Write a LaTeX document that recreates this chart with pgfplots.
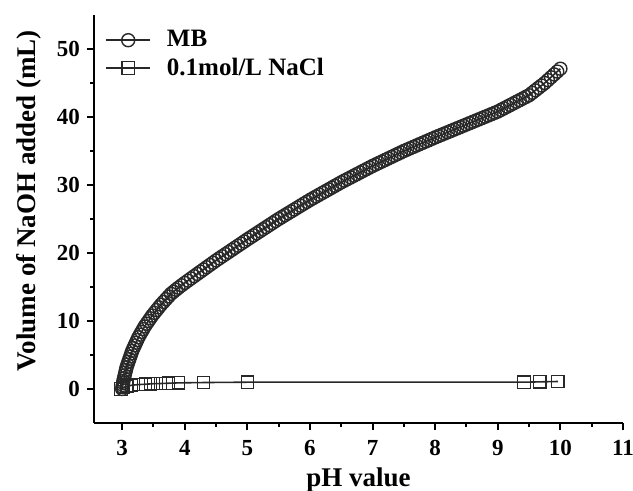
\documentclass[border=0pt]{standalone}
\usepackage{fontspec}
\setmainfont{Liberation Serif}
\usepackage{pgfplots}
\pgfplotsset{compat=1.18}
\definecolor{mbgray}{RGB}{40,40,40}

\begin{document}
\begin{tikzpicture}
\begin{axis}[
 name=ax,
 scale only axis,
 width=264.5pt,height=204pt,
 axis lines=left,
 axis line style={line width=1.1pt,-},
 xmin=2.55,xmax=11,ymin=-5,ymax=55,
 xtick={3,4,...,11},ytick={0,10,...,50},
 minor x tick num=1,minor y tick num=1,
 tick align=outside,
 major tick length=3.5pt,minor tick length=2pt,
 tick style={line width=1pt,black},
 tick label style={font=\bfseries\fontsize{11.5}{13}\selectfont},
 xticklabel style={yshift=-1.5pt},
 /pgf/number format/assume math mode=true,
 xlabel={\bfseries pH value},
 ylabel={\bfseries Volume of NaOH added (mL)},
 label style={font=\bfseries\fontsize{13.5}{15}\selectfont},
 xlabel style={yshift=1pt},
 ylabel style={at={(ticklabel cs:0.545)},yshift=1pt},
 legend style={draw=none,fill=none,at={(rel axis cs:0,0.985)},anchor=north west,
   xshift=2.5pt,yshift=-0.5pt,
   font=\bfseries\fontsize{12.5}{14}\selectfont,row sep=0pt,
   /tikz/every odd column/.append style={column sep=6pt}},
 legend cell align=left,
 legend image code/.code={%
   \draw[mark repeat=2,mark phase=2,#1] plot coordinates {(0pt,0pt) (11pt,0pt) (22pt,0pt)};},
]
\addplot[mbgray,line width=0.8pt,mark=o,mark size=3.25pt,
  mark options={fill=white,line width=0.7pt}] coordinates {
(3.00,0.0) (3.005,0.3) (3.01,0.6) (3.015,0.9) (3.02,1.2) (3.03,1.6) (3.04,2.0)
(3.05,2.4) (3.06,2.8) (3.07,3.2) (3.085,3.6) (3.10,4.0) (3.115,4.4) (3.13,4.8)
(3.145,5.2) (3.16,5.6) (3.18,6.0) (3.20,6.4) (3.22,6.8) (3.24,7.2) (3.26,7.6)
(3.285,8.0) (3.31,8.4) (3.335,8.8) (3.36,9.2) (3.39,9.6) (3.42,10.0) (3.45,10.4)
(3.48,10.8) (3.515,11.2) (3.55,11.6) (3.585,12.0) (3.62,12.4) (3.66,12.8) (3.70,13.2)
(3.74,13.6) (3.78,14.0) (3.82,14.3) (3.86,14.6) (3.90,14.9) (3.95,15.25)
(4.00,15.6) (4.05,15.93) (4.10,16.26) (4.15,16.59) (4.20,16.92) (4.25,17.25)
(4.30,17.58) (4.35,17.91) (4.40,18.24) (4.45,18.57) (4.50,18.9)
(4.55,19.21) (4.60,19.52) (4.65,19.83) (4.70,20.14) (4.75,20.45) (4.80,20.76)
(4.85,21.07) (4.90,21.38) (4.95,21.69) (5.00,22.0)
(5.05,22.3) (5.10,22.6) (5.15,22.9) (5.20,23.2) (5.25,23.5) (5.30,23.8)
(5.35,24.1) (5.40,24.4) (5.45,24.7) (5.50,25.0)
(5.55,25.28) (5.60,25.56) (5.65,25.84) (5.70,26.12) (5.75,26.4) (5.80,26.68)
(5.85,26.96) (5.90,27.24) (5.95,27.52) (6.00,27.8)
(6.05,28.06) (6.10,28.32) (6.15,28.58) (6.20,28.84) (6.25,29.1) (6.30,29.36)
(6.35,29.62) (6.40,29.88) (6.45,30.14) (6.50,30.4)
(6.55,30.64) (6.60,30.88) (6.65,31.12) (6.70,31.36) (6.75,31.6) (6.80,31.84)
(6.85,32.08) (6.90,32.32) (6.95,32.56) (7.00,32.8)
(7.05,33.02) (7.10,33.24) (7.15,33.46) (7.20,33.68) (7.25,33.9) (7.30,34.12)
(7.35,34.34) (7.40,34.56) (7.45,34.78) (7.50,35.0)
(7.55,35.2) (7.60,35.4) (7.65,35.6) (7.70,35.8) (7.75,36.0) (7.80,36.2)
(7.85,36.4) (7.90,36.6) (7.95,36.8) (8.00,37.0)
(8.05,37.19) (8.10,37.38) (8.15,37.57) (8.20,37.76) (8.25,37.95) (8.30,38.14)
(8.35,38.33) (8.40,38.52) (8.45,38.71) (8.50,38.9)
(8.55,39.09) (8.60,39.28) (8.65,39.47) (8.70,39.66) (8.75,39.85) (8.80,40.04)
(8.85,40.23) (8.90,40.42) (8.95,40.61) (9.00,40.8)
(9.05,41.04) (9.10,41.28) (9.15,41.52) (9.20,41.76) (9.25,42.0) (9.30,42.24)
(9.35,42.48) (9.40,42.72) (9.45,42.96) (9.50,43.2)
(9.55,43.56) (9.60,43.92) (9.65,44.28) (9.70,44.64) (9.75,45.0)
(9.80,45.42) (9.85,45.84) (9.90,46.26) (9.95,46.68) (10.00,47.1)
};
\addlegendentry{MB}
\addplot[mbgray,line width=0.8pt,mark=square,mark size=3.1pt,
  mark options={fill=white,line width=0.6pt}] coordinates {
(2.98,0.0) (3.02,0.2) (3.08,0.4) (3.15,0.55) (3.26,0.65) (3.37,0.7) (3.45,0.75)
(3.50,0.78) (3.61,0.8) (3.74,0.85) (3.90,0.9) (4.30,0.95) (5.00,1.0)
(9.42,1.0) (9.67,1.05) (9.96,1.1)
};
\addlegendentry{0.1mol/L NaCl}
\end{axis}
\pgfresetboundingbox
\path (ax.south west) ++(-47pt,-34pt) rectangle ++(316.5pt,245.5pt);
\end{tikzpicture}
\end{document}
